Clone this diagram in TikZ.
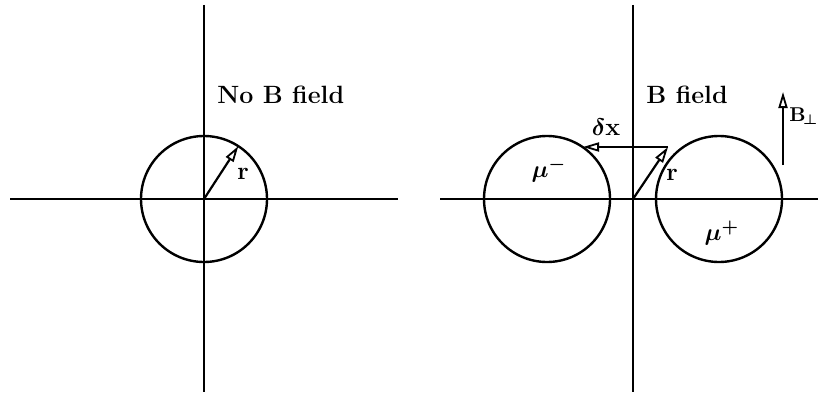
\documentclass[tikz,border=0pt]{standalone}
\usepackage{amsmath,amssymb,bm}
\usepackage{tikz}
\usetikzlibrary{positioning,arrows.meta,calc}
\tikzset{
  axisline/.style={line width=1.2pt, black},
  orbit/.style={line width=1.2pt, black},
  vec/.style={line width=1.1pt, -{Triangle[open, length=8pt, width=4.5pt, line width=0.9pt]}},
  lbl/.style={font=\fontsize{12.5}{14}\selectfont\bfseries, text=black, inner sep=0pt},
}
\begin{document}
\begin{tikzpicture}[x=0.5pt, y=0.5pt]
\useasboundingbox (0,0) rectangle (818,392);
% left panel: no field
\coordinate (oL) at (204,193);
\coordinate (tipL) at ($(oL)+(57:63)$);
\draw[axisline] (204,387) -- (204,0);
\draw[axisline] (10,193) -- (398,193);
\draw[orbit] (oL) circle (63);
\draw[vec] (oL) -- (tipL);
\node[lbl] (rL) at (243,218) {r};
\node[lbl, anchor=west] (titleL) at (217,297) {No B field};
% right panel: with field
\coordinate (oR) at (633,193);
\coordinate (cMinus) at (547,193);
\coordinate (cPlus) at (719,193);
\coordinate (tipR) at (668,245);
\coordinate (dxEnd) at (583,245);
\coordinate (bTail) at (783,227);
\coordinate (bTip) at (783,300);
\draw[axisline] (633,387) -- (633,0);
\draw[axisline] (440,193) -- (830,193);
\draw[orbit] (cMinus) circle (63);
\draw[orbit] (cPlus) circle (63);
\draw[vec] (oR) -- (tipR);
\draw[vec] (tipR) -- (dxEnd);
\draw[vec] (bTail) -- (bTip);
\node[lbl] (rR) at (672,217) {r};
\node[lbl] (dx) at (606,265) {$\bm{\delta}$x};
\node[lbl] (muMinus) at (549,222) {$\bm{\mu}^{\bm{-}}$};
\node[lbl] (muPlus) at (722,159) {$\bm{\mu}^{\bm{+}}$};
\node[lbl, anchor=west] (titleR) at (646,297) {B field};
\node[lbl, font=\fontsize{10}{12}\selectfont\bfseries, anchor=west] (bPerp) at (789,276) {B$_{\!\bm{\perp}}$};
\end{tikzpicture}
\end{document}
